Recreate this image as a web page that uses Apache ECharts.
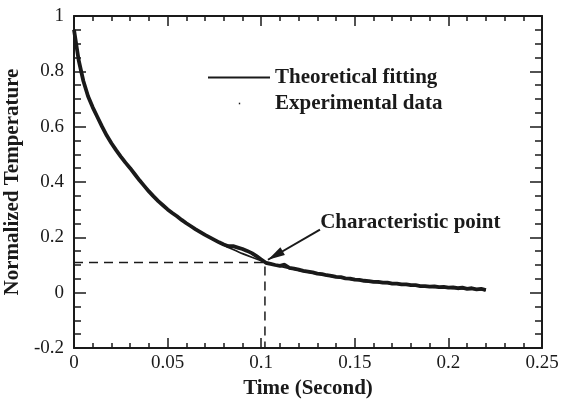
<!DOCTYPE html>
<html>
<head>
<meta charset="utf-8">
<script src="https://cdn.jsdelivr.net/npm/echarts@6/dist/echarts.min.js"></script>
<style>html,body{margin:0;padding:0;background:#fff;}#c{width:561px;height:400px;}</style>
</head>
<body>
<div id="c"></div>
<script>
// ---- data ----
var fitTime = [0, 0.0025, 0.005, 0.0075, 0.01, 0.015, 0.02, 0.025, 0.03, 0.035, 0.04, 0.045, 0.05, 0.055, 0.06, 0.065, 0.07, 0.075, 0.08, 0.085, 0.09, 0.095, 0.1, 0.105, 0.11, 0.115, 0.12, 0.125, 0.13, 0.135, 0.14, 0.145, 0.15, 0.155, 0.16, 0.165, 0.17, 0.175, 0.18, 0.185, 0.19, 0.195, 0.2, 0.205, 0.21, 0.215, 0.22];
var fitValue = [0.95, 0.84, 0.765, 0.71, 0.67, 0.60, 0.54, 0.492, 0.45, 0.406, 0.366, 0.331, 0.301, 0.276, 0.251, 0.229, 0.209, 0.19, 0.172, 0.156, 0.141, 0.128, 0.116, 0.105, 0.096, 0.088, 0.081, 0.074, 0.068, 0.062, 0.056, 0.051, 0.046, 0.042, 0.038, 0.035, 0.032, 0.029, 0.026, 0.024, 0.021, 0.019, 0.017, 0.015, 0.013, 0.011, 0.009];

var expTime = [0, 0.0025, 0.005, 0.0075, 0.01, 0.0125, 0.015, 0.0175, 0.02, 0.0225, 0.025, 0.0275, 0.03, 0.0325, 0.035, 0.0375, 0.04, 0.0425, 0.045, 0.0475, 0.05, 0.0525, 0.055, 0.0575, 0.06, 0.0625, 0.065, 0.0675, 0.07, 0.0725, 0.075, 0.0775, 0.08, 0.0825, 0.085, 0.0875, 0.09, 0.0925, 0.095, 0.0975, 0.1, 0.1025, 0.105, 0.1075, 0.11, 0.1125, 0.115, 0.1175, 0.12, 0.1225, 0.125, 0.1275, 0.13, 0.1325, 0.135, 0.1375, 0.14, 0.1425, 0.145, 0.1475, 0.15, 0.1525, 0.155, 0.1575, 0.16, 0.1625, 0.165, 0.1675, 0.17, 0.1725, 0.175, 0.1775, 0.18, 0.1825, 0.185, 0.1875, 0.19, 0.1925, 0.195, 0.1975, 0.2, 0.2025, 0.205, 0.2075, 0.21, 0.2125, 0.215, 0.2175, 0.22];
var expValue = [0.95, 0.84, 0.765, 0.71, 0.67, 0.635, 0.60, 0.568, 0.54, 0.515, 0.492, 0.47, 0.45, 0.428, 0.406, 0.386, 0.366, 0.348, 0.331, 0.316, 0.301, 0.288, 0.276, 0.263, 0.251, 0.24, 0.229, 0.219, 0.209, 0.2, 0.191, 0.182, 0.174, 0.168, 0.168, 0.163, 0.158, 0.151, 0.143, 0.132, 0.12, 0.108, 0.104, 0.1, 0.097, 0.101, 0.09, 0.087, 0.083, 0.079, 0.076, 0.073, 0.069, 0.067, 0.063, 0.061, 0.057, 0.056, 0.052, 0.051, 0.047, 0.046, 0.043, 0.042, 0.039, 0.039, 0.036, 0.036, 0.033, 0.033, 0.03, 0.03, 0.027, 0.027, 0.024, 0.024, 0.022, 0.023, 0.02, 0.021, 0.018, 0.019, 0.016, 0.018, 0.014, 0.016, 0.012, 0.014, 0.009];

var charPoint = [0.102, 0.109];          // characteristic point (time, temperature)
var arrowFrom = [0.1314, 0.228];         // annotation arrow start
var arrowTo = [0.1036, 0.119];           // annotation arrow tip
var labelAt = [0.1315, 0.254];           // annotation text anchor

var xTicks = {min: 0, max: 0.25, interval: 0.05};
var yTicks = {min: -0.2, max: 1, interval: 0.2};

var seriesNames = ['Theoretical fitting', 'Experimental data'];
var annotationText = 'Characteristic point';
var xTitle = 'Time (Second)';
var yTitle = 'Normalized Temperature';

// ---- build ----
function zip(a, b) { var r = []; for (var i = 0; i < a.length; i++) r.push([a[i], b[i]]); return r; }

var ink = '#1a1a1a';
var serif = 'Liberation Serif';
var boldFont = {fontFamily: serif, fontSize: 21, fontWeight: 'bold', color: ink};

function xAxisDef(pos, labels) {
  return {
    type: 'value', position: pos, min: xTicks.min, max: xTicks.max, interval: xTicks.interval,
    name: labels ? xTitle : '', nameLocation: 'middle', nameGap: 26, nameTextStyle: boldFont,
    axisLine: {show: true, onZero: false, lineStyle: {color: ink, width: 2}},
    axisTick: {show: true, inside: true, length: 10, lineStyle: {color: ink, width: 1.5}},
    minorTick: {show: true, splitNumber: 5, length: 5, lineStyle: {color: ink, width: 1.5}},
    axisLabel: {show: labels, margin: 6, fontFamily: serif, fontSize: 19, color: ink},
    splitLine: {show: false}
  };
}
function yAxisDef(pos, labels) {
  return {
    type: 'value', position: pos, min: yTicks.min, max: yTicks.max, interval: yTicks.interval,
    name: labels ? yTitle : '', nameLocation: 'middle', nameGap: 46, nameTextStyle: boldFont,
    axisLine: {show: true, onZero: false, lineStyle: {color: ink, width: 2}},
    axisTick: {show: true, inside: true, length: 12, lineStyle: {color: ink, width: 1.5}},
    minorTick: {show: true, splitNumber: 4, length: 7, lineStyle: {color: ink, width: 1.5}},
    axisLabel: {show: labels, margin: 10, fontFamily: serif, fontSize: 19, color: ink},
    splitLine: {show: false}
  };
}

var lineIcon = 'path://M0,0 M62,20 M0,9 L62,9 L62,11 L0,11 Z';
var dotIcon = 'path://M0,0 M62,20 M30.8,9.2 L32.2,9.2 L32.2,10.8 L30.8,10.8 Z';
var arrowHead = 'path://M4.5,0 L9,17 L0,17 Z';
var headLen = 17;

var chart = echarts.init(document.getElementById('c'), null, {renderer: 'canvas'});

function buildOption(arrowRotate, arrowOffset) {
  return {
    animation: false,
    backgroundColor: '#fff',
    grid: {left: 74, right: 19, top: 16, bottom: 52, containLabel: false, outerBoundsMode: 'none'},
    xAxis: [xAxisDef('bottom', true), xAxisDef('top', false)],
    yAxis: [yAxisDef('left', true), yAxisDef('right', false)],
    legend: [
      {data: [{name: seriesNames[0], icon: lineIcon}],
       left: 203, top: 62, itemWidth: 62, itemHeight: 20, itemGap: 0,
       selectedMode: false, textStyle: boldFont},
      {data: [{name: seriesNames[1], icon: dotIcon}], left: 203, top: 88, itemWidth: 62, itemHeight: 20, itemGap: 0,
       selectedMode: false, textStyle: boldFont}
    ],
    series: [
      {
        name: 'guide', type: 'line', z: 1, symbol: 'none', silent: true,
        data: [[xTicks.min, charPoint[1]], charPoint, [charPoint[0], yTicks.min]],
        lineStyle: {color: ink, width: 1.5, type: [9, 6]}
      },
      {
        name: seriesNames[1], type: 'line', z: 2, symbol: 'none',
        data: zip(expTime, expValue),
        itemStyle: {color: ink},
        lineStyle: {color: ink, width: 3.8}
      },
      {
        name: seriesNames[0], type: 'line', z: 3, symbol: 'none', smooth: 0.3,
        data: zip(fitTime, fitValue),
        itemStyle: {color: ink},
        lineStyle: {color: ink, width: 1.8}
      },
      {
        name: 'arrowShaft', type: 'line', z: 4, symbol: 'none', silent: true,
        data: [arrowFrom, arrowTo],
        lineStyle: {color: ink, width: 2}
      },
      {
        name: 'arrowHead', type: 'scatter', z: 5, silent: true,
        symbol: arrowHead, symbolSize: [9, headLen], symbolKeepAspect: false,
        symbolRotate: arrowRotate, symbolOffset: arrowOffset,
        itemStyle: {color: ink, opacity: 1},
        data: [arrowTo]
      },
      {
        name: 'annotation', type: 'scatter', z: 4, symbolSize: 0, silent: true,
        data: [labelAt],
        itemStyle: {opacity: 1, color: ink},
        label: {show: true, position: 'right', distance: 0, formatter: annotationText,
                fontFamily: serif, fontSize: 21, fontWeight: 'bold', color: ink}
      }
    ]
  };
}

chart.setOption(buildOption(0, [0, 0]));
var p0 = chart.convertToPixel({gridIndex: 0}, arrowFrom);
var p1 = chart.convertToPixel({gridIndex: 0}, arrowTo);
var dx = p1[0] - p0[0], dy = p1[1] - p0[1];
var len = Math.sqrt(dx * dx + dy * dy);
var ux = dx / len, uy = dy / len;
var ang = Math.atan2(-dy, dx) * 180 / Math.PI;
chart.setOption(buildOption(ang - 90, [-ux * headLen / 2, -uy * headLen / 2]));
</script>
</body>
</html>
